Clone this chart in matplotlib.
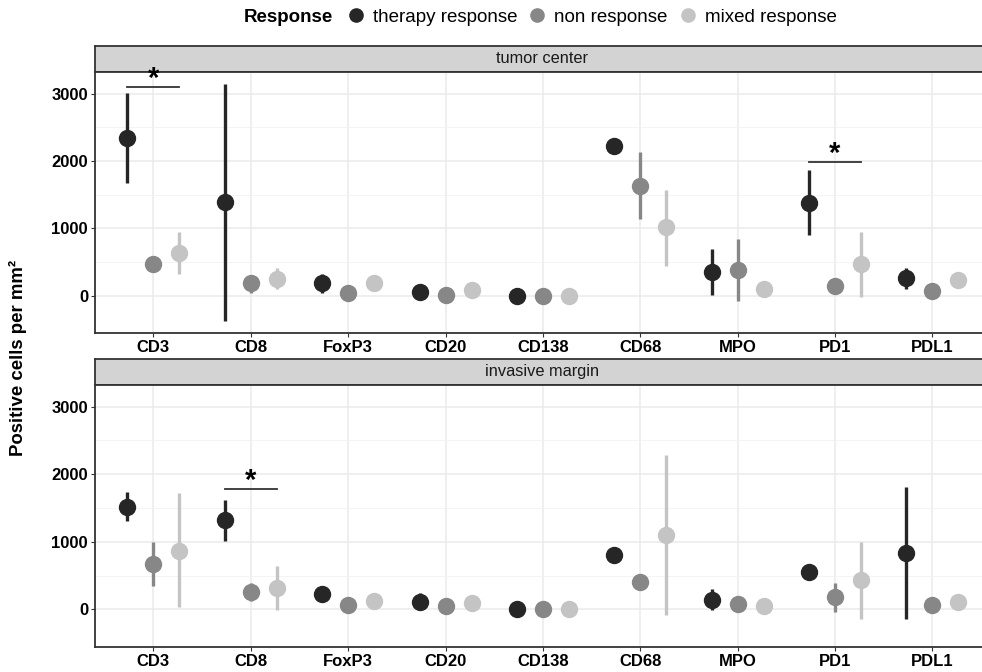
import numpy as np
import matplotlib.pyplot as plt

plt.rcParams['font.family'] = ['Liberation Sans', 'DejaVu Sans']

markers = ["CD3", "CD8", "FoxP3", "CD20", "CD138", "CD68", "MPO", "PD1", "PDL1"]
groups = ["therapy response", "non response", "mixed response"]
colors = ["#262626", "#878787", "#c4c4c4"]
nan = np.nan

# tumor center: mean, lower, upper per group
tc_mean = {
    "therapy response": [2340, 1383, 183, 50, 0, 2217, 356, 1378, 257],
    "non response":     [469, 183, 44, 6, 0, 1630, 380, 148, 74],
    "mixed response":   [628, 243, 183, 84, 0, 1013, 95, 465, 228],
}
tc_low = {
    "therapy response": [1665, -375, 44, nan, nan, nan, 6, 899, 99],
    "non response":     [nan, 44, nan, nan, nan, 1136, -78, nan, nan],
    "mixed response":   [317, 95, nan, nan, nan, 444, nan, -24, nan],
}
tc_high = {
    "therapy response": [3012, 3146, 321, nan, nan, nan, 692, 1862, 405],
    "non response":     [nan, 307, nan, nan, nan, 2133, 840, nan, nan],
    "mixed response":   [939, 405, nan, nan, nan, 1570, nan, 948, nan],
}

# invasive margin
im_mean = {
    "therapy response": [1517, 1318, 229, 114, 0, 810, 139, 552, 836],
    "non response":     [672, 263, 64, 49, 0, 413, 79, 179, 64],
    "mixed response":   [870, 313, 124, 89, 0, 1099, 49, 437, 109],
}
im_low = {
    "therapy response": [1308, 1019, nan, -10, nan, nan, -10, nan, -134],
    "non response":     [348, 128, nan, nan, nan, nan, nan, -36, nan],
    "mixed response":   [39, -10, nan, nan, nan, -75, nan, -134, nan],
}
im_high = {
    "therapy response": [1731, 1621, nan, 239, nan, nan, 298, nan, 1815],
    "non response":     [1000, 397, nan, nan, nan, nan, nan, 397, nan],
    "mixed response":   [1721, 636, nan, nan, nan, 2278, nan, 1000, nan],
}

# significance brackets: (marker, height of bar)
tc_sig = [("CD3", 3096), ("PD1", 1990)]
im_sig = [("CD8", 1781)]

panels = [
    ("tumor center", tc_mean, tc_low, tc_high, tc_sig),
    ("invasive margin", im_mean, im_low, im_high, im_sig),
]

fig = plt.figure(figsize=(9.82, 6.72), dpi=100)

x = np.arange(len(markers))
offsets = [-0.267, 0.0, 0.267]
axes_pos = [(0.0967, 0.5045, 0.9123, 0.3884), (0.0967, 0.0372, 0.9123, 0.3899)]
strip_h = 26 / 672

for (title, mean, low, high, sig), pos in zip(panels, axes_pos):
    # facet strip
    sax = fig.add_axes((pos[0], pos[1] + pos[3], pos[2], strip_h))
    sax.set_facecolor('#d3d3d3')
    sax.set_xticks([])
    sax.set_yticks([])
    for s in sax.spines.values():
        s.set_color('#333333')
        s.set_linewidth(1.3)
    sax.text(0.5 * 0.982 / 1.009 + 0.012, 0.5, title, transform=sax.transAxes,
             ha='center', va='center', fontsize=11.8, color='#1a1a1a')
    sax.set_zorder(1)

    ax = fig.add_axes(pos)
    ax.set_zorder(2)
    ax.set_xlim(-0.6, len(markers) - 0.4)
    ax.set_ylim(-555, 3320)
    ax.set_yticks([0, 1000, 2000, 3000])
    ax.set_yticks([500, 1500, 2500], minor=True)
    ax.set_xticks(x)
    ax.set_xticklabels(markers, fontsize=12, fontweight='bold')
    ax.tick_params(axis='y', labelsize=12)
    for lab in ax.get_yticklabels():
        lab.set_fontweight('bold')
    ax.tick_params(axis='both', which='major', length=3, color='#333333', pad=2)
    ax.tick_params(axis='y', which='minor', length=0)
    ax.grid(True, which='major', color='#ebebeb', linewidth=1.1)
    ax.grid(True, which='minor', axis='y', color='#f2f2f2', linewidth=0.6)
    ax.set_axisbelow(True)
    for s in ax.spines.values():
        s.set_color('#333333')
        s.set_linewidth(1.3)

    for g, c, off in zip(groups, colors, offsets):
        xs = x + off
        lo = np.array(low[g], dtype=float)
        hi = np.array(high[g], dtype=float)
        ok = ~np.isnan(lo)
        ax.vlines(xs[ok], lo[ok], hi[ok], color=c, linewidth=2.4, zorder=2)
        ax.plot(xs, mean[g], 'o', color=c, markersize=11.5, zorder=3)

    for m, yb in sig:
        i = markers.index(m)
        ax.plot([i + offsets[0], i + offsets[2]], [yb, yb], color='#333333', linewidth=1.3)
        ax.text(i, yb + 120, '*', ha='center', va='center', fontsize=21, fontweight='bold',
                zorder=5)

fig.text(0.018, 0.468, "Positive cells per mm²", rotation=90, ha='center', va='center',
         fontsize=13.4, fontweight='bold')

# legend
handles = [plt.Line2D([], [], marker='o', linestyle='', color=c, markersize=9.5) for c in colors]
fig.text(0.2485, 0.974, "Response", ha='left', va='center', fontsize=13.5, fontweight='bold')
fig.legend(handles, groups, loc='center left', bbox_to_anchor=(0.353, 0.974), ncol=3,
           frameon=False, fontsize=13.5, handletextpad=0.4, columnspacing=0.57,
           handlelength=1.0, borderaxespad=0, borderpad=0)

fig.savefig("out.png", dpi=100)
